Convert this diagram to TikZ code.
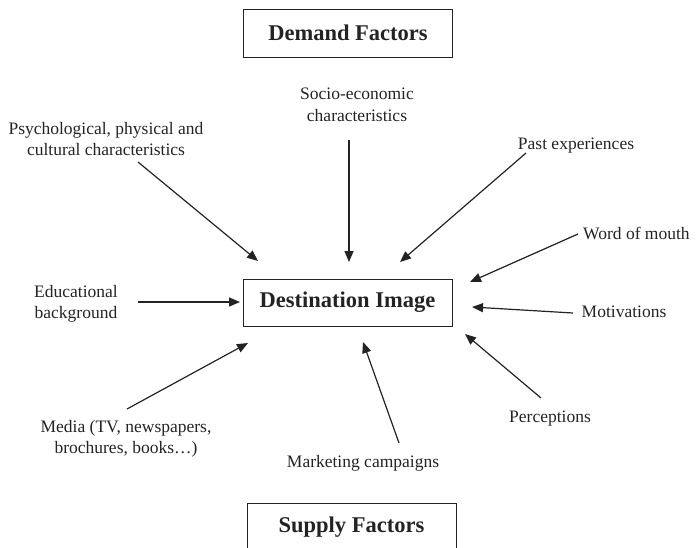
\documentclass[tikz,border=0pt]{standalone}
\usepackage{fontspec}
\setmainfont{Liberation Serif}
\usetikzlibrary{arrows.meta}
\definecolor{ink}{RGB}{35,35,35}
\begin{document}
\begin{tikzpicture}[x=1pt,y=-1pt,
  lbl/.style={align=center,font=\fontsize{17.5}{21.5}\selectfont,text=ink,inner sep=0pt},
  boxnode/.style={draw=ink,line width=0.9pt,minimum width=209pt,font=\fontsize{22.5}{26}\selectfont\bfseries,text=ink},
  arr/.style={draw=ink,line width=1.2pt,-{Triangle[length=11pt,width=9pt]}}]
\useasboundingbox (0,0) rectangle (700,547);
% boxes
\node[boxnode,minimum height=48pt] (demand) at (348,33) {Demand Factors};
\node[boxnode,minimum height=47pt] (dest) at (347.5,302.5) {Destination Image};
\node[boxnode,minimum height=48pt] (supply) at (351.5,527) {Supply Factors};
% labels
\node[lbl] (psych) at (106,139) {Psychological, physical and\\cultural characteristics};
\node[lbl] (socio) at (357,105) {Socio-economic\\characteristics};
\node[lbl] (past) at (576,146) {Past experiences};
\node[lbl,anchor=west] (word) at (583,233) {Word of mouth};
\node[lbl] (motiv) at (624,312) {Motivations};
\node[lbl] (educ) at (76,304) {Educational\\background};
\node[lbl] (media) at (126,439) {Media (TV, newspapers,\\brochures, books…)};
\node[lbl] (market) at (363,463) {Marketing campaigns};
\node[lbl] (percep) at (550,419) {Perceptions};
% arrow end points
\coordinate (psychS) at (138,162);  \coordinate (psychE) at (258,261);
\coordinate (socioS) at (349,140);  \coordinate (socioE) at (349,262);
\coordinate (pastS) at (526,153);   \coordinate (pastE) at (400,262);
\coordinate (wordS) at (578,234);   \coordinate (wordE) at (470,282);
\coordinate (motivS) at (573,313);  \coordinate (motivE) at (472,307);
\coordinate (educS) at (138,302);   \coordinate (educE) at (240,302);
\coordinate (mediaS) at (127,409);  \coordinate (mediaE) at (248,343);
\coordinate (marketS) at (399,443); \coordinate (marketE) at (363,342);
\coordinate (percepS) at (541,398); \coordinate (percepE) at (465,334);
% arrows
\draw[arr] (psychS) -- (psychE);
\draw[arr] (socioS) -- (socioE);
\draw[arr] (pastS) -- (pastE);
\draw[arr] (wordS) -- (wordE);
\draw[arr] (motivS) -- (motivE);
\draw[arr] (educS) -- (educE);
\draw[arr] (mediaS) -- (mediaE);
\draw[arr] (marketS) -- (marketE);
\draw[arr] (percepS) -- (percepE);
\end{tikzpicture}
\end{document}
